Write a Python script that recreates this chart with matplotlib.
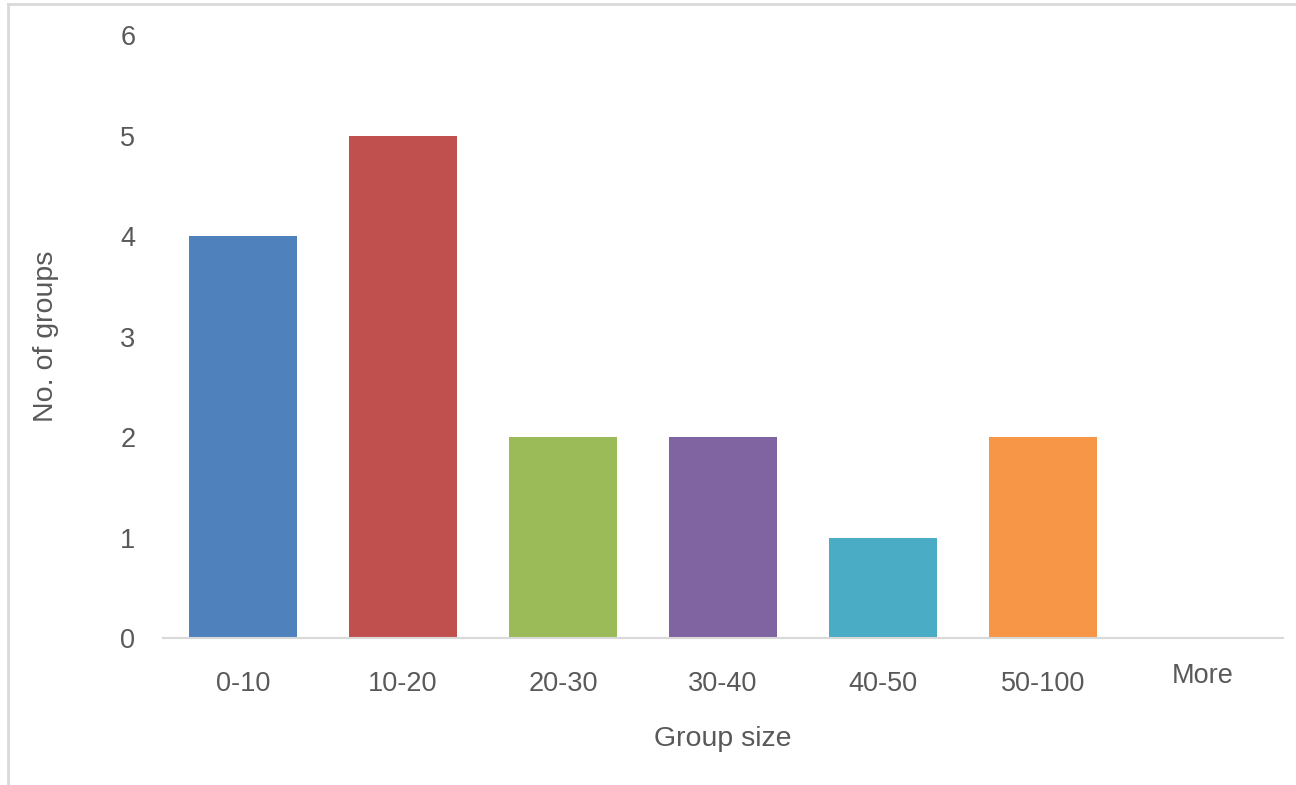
import matplotlib
matplotlib.use("Agg")
import matplotlib.pyplot as plt
from matplotlib.lines import Line2D
from matplotlib.transforms import ScaledTranslation

# data
categories = ["0-10", "10-20", "20-30", "30-40", "40-50", "50-100", "More"]
counts = [4, 5, 2, 2, 1, 2, 0]
bar_colors = ["#4F81BD", "#C0504D", "#9BBB59", "#8064A2", "#4BACC6", "#F79646", "#4F81BD"]
y_ticks = [0, 1, 2, 3, 4, 5, 6]

text_color = "#595959"
font_size = 19.5
plt.rcParams["font.family"] = ["Liberation Sans", "DejaVu Sans"]

fig = plt.figure(figsize=(12.96, 7.85), dpi=100)
ax = fig.add_axes([0.1258, 0.1873, 0.8642, 0.7675])

x = range(len(categories))
ax.bar(x, counts, width=0.67, color=bar_colors, zorder=2)

ax.set_xlim(-0.5, len(categories) - 0.5)
ax.set_ylim(0, 6)
ax.set_yticks(y_ticks)
ax.set_xticks(list(x))
ax.set_xticklabels(categories)

for side in ["top", "right", "left"]:
    ax.spines[side].set_visible(False)
ax.spines["bottom"].set_color("#D9D9D9")
ax.spines["bottom"].set_linewidth(1.5)

ax.tick_params(axis="both", length=0, labelsize=font_size, colors=text_color)
ax.tick_params(axis="y", pad=20)
ax.tick_params(axis="x", pad=24)

# the "More" label sits a little higher in the original
more_label = ax.get_xticklabels()[-1]
more_label.set_transform(more_label.get_transform()
                         + ScaledTranslation(0, 0.08, fig.dpi_scale_trans))

ax.set_xlabel("Group size", fontsize=20.5, color=text_color, labelpad=21)
ax.set_ylabel("No. of groups", fontsize=20.5, color=text_color, labelpad=44)

# light frame visible on left and top edge
fig.add_artist(Line2D([0.0062, 0.0062], [0, 0.995], color="#D9D9D9", lw=2))
fig.add_artist(Line2D([0.0062, 1.0], [0.995, 0.995], color="#D9D9D9", lw=2))

fig.savefig("out.png", dpi=100)
